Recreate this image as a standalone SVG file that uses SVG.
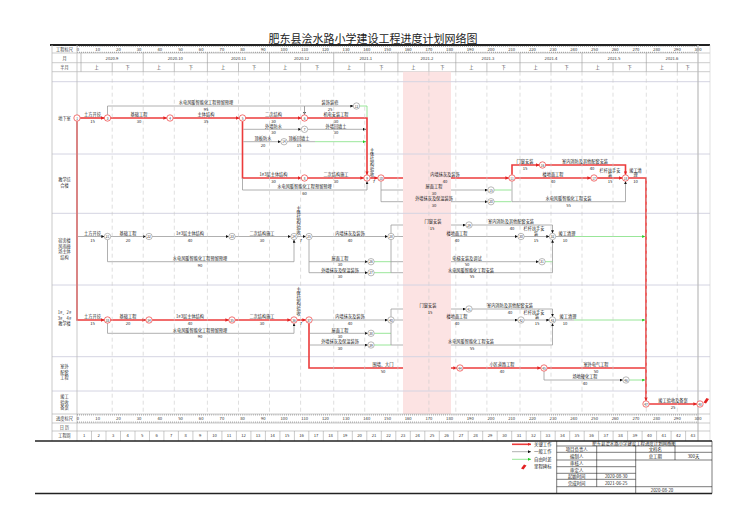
<svg xmlns="http://www.w3.org/2000/svg" width="750" height="530" viewBox="0 0 750 530">
<defs>
<style>
text{font-family:"Noto Sans CJK SC","Noto Sans",sans-serif;fill:#222}
.t{font-size:4.2px;text-anchor:middle}
.h{font-size:4.2px;text-anchor:middle;fill:#333}
.s{font-size:4.4px;text-anchor:middle}
.nn{font-size:3.1px;text-anchor:middle;dominant-baseline:central;fill:#333}
.cr{stroke:#ec3b3b;stroke-width:1.6;fill:none}
.cg{stroke:#9c9c9c;stroke-width:0.8;fill:none}
.cf{stroke:#7fe07f;stroke-width:0.8;fill:none}
.nr circle{fill:#fff;stroke:#ec3b3b;stroke-width:0.7}
.ng circle{fill:#fff;stroke:#8a8a8a;stroke-width:0.6}
.grid{stroke:#c9c9c9;stroke-width:0.6;stroke-dasharray:4 3}
.row{stroke:#d4d4e2;stroke-width:1}
.hl{stroke:#aaa;stroke-width:0.6}
.tb{stroke:#222;stroke-width:0.6;fill:none}
.rul{stroke:#666;stroke-width:1.2;stroke-dasharray:0.5 1.57}
</style>
<marker id="ar" viewBox="0 0 4 4" refX="4" refY="2" markerWidth="3.4" markerHeight="3.4" markerUnits="userSpaceOnUse" orient="auto"><path d="M0,0L4,2L0,4z" fill="#e32222"/></marker>
<marker id="ag" viewBox="0 0 4 4" refX="4" refY="2" markerWidth="3" markerHeight="3" markerUnits="userSpaceOnUse" orient="auto"><path d="M0,0L4,2L0,4z" fill="#111"/></marker>
<marker id="af" viewBox="0 0 4 4" refX="4" refY="2" markerWidth="3" markerHeight="3" markerUnits="userSpaceOnUse" orient="auto"><path d="M0,0L4,2L0,4z" fill="#2c2"/></marker>
</defs>
<rect width="750" height="530" fill="#fff"/>

<text x="373" y="42.5" font-size="11" text-anchor="middle" fill="#222">肥东县浍水路小学建设工程进度计划网络图</text>
<line x1="50" y1="45" x2="710" y2="45" stroke="#222" stroke-width="1.8"/>

<g id="header">
<line class="hl" x1="52" y1="53" x2="710" y2="53"/>
<line class="hl" x1="52" y1="62.7" x2="710" y2="62.7"/>
<line class="hl" x1="52" y1="71.7" x2="710" y2="71.7"/>
<line class="rul" x1="77" y1="46.3" x2="698" y2="46.3"/>
<line class="rul" x1="77" y1="52.3" x2="698" y2="52.3"/>
<text class="h" x="64.5" y="51">工程标尺</text>
<text class="h" x="64.5" y="60">月</text>
<text class="h" x="64.5" y="69">半月</text>
<text x="78" y="51" class="h">0</text><text x="97.7" y="51" class="h">10</text><text x="118.4" y="51" class="h">20</text><text x="139.1" y="51" class="h">30</text><text x="159.8" y="51" class="h">40</text><text x="180.5" y="51" class="h">50</text><text x="201.2" y="51" class="h">60</text><text x="221.9" y="51" class="h">70</text><text x="242.6" y="51" class="h">80</text><text x="263.3" y="51" class="h">90</text><text x="284" y="51" class="h">100</text><text x="304.7" y="51" class="h">110</text><text x="325.4" y="51" class="h">120</text><text x="346.1" y="51" class="h">130</text><text x="366.8" y="51" class="h">140</text><text x="387.5" y="51" class="h">150</text><text x="408.2" y="51" class="h">160</text><text x="428.9" y="51" class="h">170</text><text x="449.6" y="51" class="h">180</text><text x="470.3" y="51" class="h">190</text><text x="491" y="51" class="h">200</text><text x="511.7" y="51" class="h">210</text><text x="532.4" y="51" class="h">220</text><text x="553.1" y="51" class="h">230</text><text x="573.8" y="51" class="h">240</text><text x="594.5" y="51" class="h">250</text><text x="615.2" y="51" class="h">260</text><text x="635.9" y="51" class="h">270</text><text x="656.6" y="51" class="h">280</text><text x="677.3" y="51" class="h">290</text><text x="698" y="51" class="h">300</text>
<text class="h" x="112" y="60">2020.9</text><text class="h" x="175.3" y="60">2020.10</text><text class="h" x="238.5" y="60">2020.11</text><text class="h" x="301.6" y="60">2020.12</text><text class="h" x="365.8" y="60">2021.1</text><text class="h" x="426.9" y="60">2021.2</text><text class="h" x="488" y="60">2021.3</text><text class="h" x="551" y="60">2021.4</text><text class="h" x="614" y="60">2021.5</text><text class="h" x="672" y="60">2021.6</text>
<text class="h" x="96.6" y="69">上</text><text class="h" x="127.7" y="69">下</text><text class="h" x="158.8" y="69">上</text><text class="h" x="190.9" y="69">下</text><text class="h" x="223" y="69">上</text><text class="h" x="254" y="69">下</text><text class="h" x="285" y="69">上</text><text class="h" x="317.2" y="69">下</text><text class="h" x="349.2" y="69">上</text><text class="h" x="381.3" y="69">下</text><text class="h" x="413.4" y="69">上</text><text class="h" x="442.4" y="69">下</text><text class="h" x="471.4" y="69">上</text><text class="h" x="503.5" y="69">下</text><text class="h" x="535.5" y="69">上</text><text class="h" x="566.5" y="69">下</text><text class="h" x="597.5" y="69">上</text><text class="h" x="629.7" y="69">下</text><text class="h" x="661.8" y="69">上</text><text class="h" x="687.7" y="69">下</text>
<g stroke="#999" stroke-width="0.6">
<line x1="81" y1="53" x2="81" y2="71.7"/><line x1="143.2" y1="53" x2="143.2" y2="71.7"/><line x1="207.4" y1="53" x2="207.4" y2="71.7"/><line x1="269.5" y1="53" x2="269.5" y2="71.7"/><line x1="333.7" y1="53" x2="333.7" y2="71.7"/><line x1="397.9" y1="53" x2="397.9" y2="71.7"/><line x1="455.8" y1="53" x2="455.8" y2="71.7"/><line x1="520" y1="53" x2="520" y2="71.7"/><line x1="582" y1="53" x2="582" y2="71.7"/><line x1="646.3" y1="53" x2="646.3" y2="71.7"/>
<line x1="112.2" y1="62.7" x2="112.2" y2="71.7"/><line x1="174.3" y1="62.7" x2="174.3" y2="71.7"/><line x1="238.5" y1="62.7" x2="238.5" y2="71.7"/><line x1="300.6" y1="62.7" x2="300.6" y2="71.7"/><line x1="364.7" y1="62.7" x2="364.7" y2="71.7"/><line x1="428.9" y1="62.7" x2="428.9" y2="71.7"/><line x1="486.9" y1="62.7" x2="486.9" y2="71.7"/><line x1="551" y1="62.7" x2="551" y2="71.7"/><line x1="613" y1="62.7" x2="613" y2="71.7"/><line x1="677.3" y1="62.7" x2="677.3" y2="71.7"/>
</g>
</g>

<g id="rows">
<line class="row" x1="52" y1="81.7" x2="710" y2="81.7"/>
<line class="row" x1="52" y1="154" x2="710" y2="154"/>
<line class="row" x1="52" y1="213.3" x2="710" y2="213.3"/>
<line class="row" x1="52" y1="285" x2="710" y2="285"/>
<line class="row" x1="52" y1="356.7" x2="710" y2="356.7"/>
<line class="row" x1="52" y1="391" x2="710" y2="391"/>
</g>

<g id="connectors">
<path class="cr" d="M80.2,118H104.3" marker-end="url(#ar)"/>
<path class="cr" d="M110.7,118H166.8" marker-end="url(#ar)"/>
<path class="cr" d="M173.2,118H239.3" marker-end="url(#ar)"/>
<path class="cr" d="M245.7,118H301.3" marker-end="url(#ar)"/>
<path class="cr" d="M307.7,118H367V174.8" marker-end="url(#ar)"/>
<path class="cg" d="M107.5,114.8V106H304.5V114.8" marker-end="url(#ag)"/>
<path class="cg" d="M304.5,114.8V106H353.3" marker-end="url(#ag)"/>
<path class="cf" d="M359.7,106H367V117"/>
<path class="cr" d="M242.5,121.2V178H301.3" marker-end="url(#ar)"/>
<path class="cg" d="M243.3,129.3H301.3" marker-end="url(#ag)"/>
<path class="cg" d="M243.3,141.7H280.8" marker-end="url(#ag)"/>
<path class="cg" d="M307.7,129.3H366" marker-end="url(#ag)"/>
<path class="cg" d="M287.2,141.7H315"/>
<path class="cf" d="M315,141.7H366" marker-end="url(#af)"/>
<path class="cr" d="M307.7,178H363.8" marker-end="url(#ar)"/>
<path class="cg" d="M242.5,178V190H367V181.2" marker-end="url(#ag)"/>
<path class="cr" d="M370.2,178H377.8" marker-end="url(#ar)"/>
<path class="cr" d="M384.2,178H508.8" marker-end="url(#ar)"/>
<path class="cg" d="M381,181.2V201.7H487.8" marker-end="url(#ag)"/>
<path class="cg" d="M381,190H487.8" marker-end="url(#ag)"/>
<path class="cf" d="M494.2,190H511.5"/>
<path class="cf" d="M494.2,201.7H511.5"/>
<path class="cg" d="M512,181.2V201.7H625.5V181.2" marker-end="url(#ag)"/>
<path class="cr" d="M512,174.8V165H539.3" marker-end="url(#ar)"/>
<path class="cr" d="M545.7,165H625.5V174.8" marker-end="url(#ar)"/>
<path class="cr" d="M515.2,178H590.8" marker-end="url(#ar)"/>
<path class="cr" d="M597.2,178H622.3" marker-end="url(#ar)"/>
<path class="cr" d="M628.7,178H646V400.8" marker-end="url(#ar)"/>
<path class="cg" d="M78,236.5H104.3" marker-end="url(#ag)"/>
<path class="cg" d="M110.7,236.5H145.8" marker-end="url(#ag)"/>
<path class="cg" d="M152.2,236.5H228.8" marker-end="url(#ag)"/>
<path class="cg" d="M235.2,236.5H290.8" marker-end="url(#ag)"/>
<path class="cg" d="M297.2,236.5H305.8" marker-end="url(#ag)"/>
<path class="cg" d="M107.5,239.7V261.7H294V239.7" marker-end="url(#ag)"/>
<path class="cg" d="M312.2,236.5H387.8" marker-end="url(#ag)"/>
<path class="cg" d="M309,239.7V272.7H367.8" marker-end="url(#ag)"/>
<path class="cg" d="M309,261.7H367.8" marker-end="url(#ag)"/>
<path class="cf" d="M374.2,261.7H391"/>
<path class="cf" d="M374.2,272.7H391"/>
<path class="cg" d="M391,233.3V225H465.8" marker-end="url(#ag)"/>
<path class="cg" d="M391,239.7V272.7H552.5V239.7" marker-end="url(#ag)"/>
<path class="cg" d="M391,261.7H538.8" marker-end="url(#ag)"/>
<path class="cf" d="M545.2,261.7H552.5"/>
<path class="cg" d="M394.2,236.5H517.8" marker-end="url(#ag)"/>
<path class="cg" d="M472.2,225H552.5V233.3" marker-end="url(#ag)"/>
<path class="cg" d="M524.2,236.5H549.3" marker-end="url(#ag)"/>
<path class="cg" d="M555.7,236.5H574"/>
<path class="cf" d="M574,236.5H645.2" marker-end="url(#af)"/>
<path class="cr" d="M77,121.2V320H104.3" marker-end="url(#ar)"/>
<path class="cr" d="M110.7,320H145.8" marker-end="url(#ar)"/>
<path class="cr" d="M152.2,320H228.8" marker-end="url(#ar)"/>
<path class="cr" d="M235.2,320H290.8" marker-end="url(#ar)"/>
<path class="cr" d="M297.2,320H305.8" marker-end="url(#ar)"/>
<path class="cg" d="M107.5,323.2V333.3H294V323.2" marker-end="url(#ag)"/>
<path class="cg" d="M312.2,320H387.8" marker-end="url(#ag)"/>
<path class="cg" d="M309.8,333.3H367.8" marker-end="url(#ag)"/>
<path class="cg" d="M309.8,345H367.8" marker-end="url(#ag)"/>
<path class="cf" d="M374.2,333.3H391"/>
<path class="cf" d="M374.2,345H391"/>
<path class="cg" d="M391,316.8V309H465.8" marker-end="url(#ag)"/>
<path class="cg" d="M391,323.2V345H552.5V323.2" marker-end="url(#ag)"/>
<path class="cg" d="M394.2,320H517.8" marker-end="url(#ag)"/>
<path class="cg" d="M472.2,309H552.5V316.8" marker-end="url(#ag)"/>
<path class="cg" d="M524.2,320H549.3" marker-end="url(#ag)"/>
<path class="cg" d="M555.7,320H574"/>
<path class="cf" d="M574,320H645.2" marker-end="url(#af)"/>
<path class="cr" d="M309,323.2V368H456.8" marker-end="url(#ar)"/>
<path class="cr" d="M463.2,368H540.8" marker-end="url(#ar)"/>
<path class="cr" d="M547.2,368H645.2"/>
<path class="cg" d="M544,371.2V380H622.8" marker-end="url(#ag)"/>
<path class="cf" d="M629.2,380H645.2" marker-end="url(#af)"/>
<path class="cr" d="M649.2,404H696.8" marker-end="url(#ar)"/>
</g>

<rect x="403" y="71.7" width="48" height="342.3" fill="#fce3e3"/>

<g id="grid">
<line class="grid" x1="112.2" y1="71.7" x2="112.2" y2="414"/><line class="grid" x1="143.2" y1="71.7" x2="143.2" y2="414"/><line class="grid" x1="174.3" y1="71.7" x2="174.3" y2="414"/><line class="grid" x1="207.4" y1="71.7" x2="207.4" y2="414"/><line class="grid" x1="238.5" y1="71.7" x2="238.5" y2="414"/><line class="grid" x1="269.5" y1="71.7" x2="269.5" y2="414"/><line class="grid" x1="300.6" y1="71.7" x2="300.6" y2="414"/><line class="grid" x1="333.7" y1="71.7" x2="333.7" y2="414"/><line class="grid" x1="364.7" y1="71.7" x2="364.7" y2="414"/><line class="grid" x1="397.9" y1="71.7" x2="397.9" y2="414"/><line class="grid" x1="428.9" y1="71.7" x2="428.9" y2="414"/><line class="grid" x1="455.8" y1="71.7" x2="455.8" y2="414"/><line class="grid" x1="486.9" y1="71.7" x2="486.9" y2="414"/><line class="grid" x1="520" y1="71.7" x2="520" y2="414"/><line class="grid" x1="551" y1="71.7" x2="551" y2="414"/><line class="grid" x1="582" y1="71.7" x2="582" y2="414"/><line class="grid" x1="613" y1="71.7" x2="613" y2="414"/><line class="grid" x1="646.3" y1="71.7" x2="646.3" y2="414"/><line class="grid" x1="677.3" y1="71.7" x2="677.3" y2="414"/>
<line class="row" x1="403" y1="81.7" x2="451" y2="81.7"/><line class="row" x1="403" y1="154" x2="451" y2="154"/><line class="row" x1="403" y1="213.3" x2="451" y2="213.3"/><line class="row" x1="403" y1="285" x2="451" y2="285"/><line class="row" x1="403" y1="356.7" x2="451" y2="356.7"/><line class="row" x1="403" y1="391" x2="451" y2="391"/>
</g>

<g id="frame">
<line x1="52" y1="45" x2="52" y2="441" stroke="#bbb" stroke-width="0.8"/>
<line x1="77" y1="45" x2="77" y2="441" stroke="#bbb" stroke-width="0.8"/>
<line x1="698" y1="45" x2="698" y2="441" stroke="#bbb" stroke-width="1.2"/>
<line x1="710" y1="45" x2="710" y2="441" stroke="#ccc" stroke-width="0.6"/>
</g>

<g id="rowlabels">
<text class="h" x="64.5" y="119.5">地下室</text>
<text class="h" x="64.5" y="181">教学综</text><text class="h" x="64.5" y="186.5">合楼</text>
<text class="h" x="64.5" y="242">宿舍楼</text><text class="h" x="64.5" y="247.5">风雨操</text><text class="h" x="64.5" y="253">场主体</text><text class="h" x="64.5" y="258.5">结构</text>
<text class="h" x="64.5" y="314">1#、2#</text><text class="h" x="64.5" y="319.5">3#、4#</text><text class="h" x="64.5" y="325">教学楼</text>
<text class="h" x="64.5" y="368">室外</text><text class="h" x="64.5" y="373.5">配套</text><text class="h" x="64.5" y="379">工程</text>
<text class="h" x="64.5" y="398">竣工</text><text class="h" x="64.5" y="403.5">验收</text><text class="h" x="64.5" y="409">备案</text>
</g>

<g id="labels">
<text class="t" x="92.5" y="116.4">土方开挖</text><text class="t" x="92.5" y="123">15</text>
<text class="t" x="139" y="116.4">基础工程</text><text class="t" x="139" y="123">30</text>
<text class="t" x="206" y="116.4">主体结构</text><text class="t" x="206" y="123">35</text>
<text class="t" x="273.5" y="116.4">二次结构</text><text class="t" x="273.5" y="123">30</text>
<text class="t" x="336" y="116.4">机电安装工程</text><text class="t" x="336" y="123">30</text>
<text class="t" x="206" y="104.4">水电风暖智能化工程预留预埋</text><text class="t" x="206" y="111">95</text>
<text class="t" x="330" y="104.4">装饰装修</text><text class="t" x="330" y="111">25</text>
<text class="t" x="273.5" y="127.7">外墙防水</text><text class="t" x="273.5" y="134.3">30</text>
<text class="t" x="336" y="127.7">外墙回填土</text><text class="t" x="336" y="134.3">30</text>
<text class="t" x="263" y="140.1">顶板防水</text><text class="t" x="263" y="146.7">20</text>
<text class="t" x="299" y="140.1">顶板回填土</text><text class="t" x="299" y="146.7">15</text>

<text class="t" x="273.5" y="176.4">1#3层主体结构</text><text class="t" x="273.5" y="183">30</text>
<text class="t" x="336" y="176.4">二次结构施工</text><text class="t" x="336" y="183">30</text>
<text class="t" x="304.5" y="188.4">水电风暖智能化工程预留预埋</text><text class="t" x="304.5" y="195">60</text>
<g class="t"><text class="t" x="372" y="151.5">主</text><text class="t" x="372" y="156.3">体</text><text class="t" x="372" y="161.1">结</text><text class="t" x="372" y="165.9">构</text><text class="t" x="372" y="170.7">验</text><text class="t" x="372" y="175.5">收</text></g>
<text class="t" x="374" y="183">7</text>
<text class="t" x="445" y="176.4">内墙抹灰及装饰</text><text class="t" x="445" y="183">40</text>
<text class="t" x="434" y="188.4">屋面工程</text><text class="t" x="434" y="195">30</text>
<text class="t" x="434" y="200.1">外墙抹灰及保温装饰</text><text class="t" x="434" y="206.7">30</text>
<text class="t" x="525" y="163.4">门窗安装</text><text class="t" x="525" y="170">15</text>
<text class="t" x="585" y="163.4">室内消防及其他配套安装</text><text class="t" x="592" y="170">40</text>
<text class="t" x="553" y="176.4">楼地面工程</text><text class="t" x="553" y="183">40</text>
<text class="t" x="610" y="171.6">栏杆扶手安</text><text class="t" x="610" y="176.3">装</text><text class="t" x="610" y="183">15</text>
<text class="t" x="635.5" y="171.6">竣工清</text><text class="t" x="635.5" y="176.3">理</text><text class="t" x="635.5" y="183">10</text>
<text class="t" x="568.5" y="200.1">水电风暖智能化工程安装</text><text class="t" x="568.5" y="206.7">55</text>

<text class="t" x="92.5" y="234.9">土方开挖</text><text class="t" x="92.5" y="241.5">15</text>
<text class="t" x="128" y="234.9">基础工程</text><text class="t" x="128" y="241.5">20</text>
<text class="t" x="190" y="234.9">1#3层主体结构</text><text class="t" x="190" y="241.5">40</text>
<text class="t" x="262" y="234.9">二次结构施工</text><text class="t" x="262" y="241.5">30</text>
<g class="t"><text class="t" x="298.5" y="209.5">主</text><text class="t" x="298.5" y="214.3">体</text><text class="t" x="298.5" y="219.1">结</text><text class="t" x="298.5" y="223.9">构</text><text class="t" x="298.5" y="228.7">验</text><text class="t" x="298.5" y="233.5">收</text></g>
<text class="t" x="301" y="241.5">7</text>
<text class="t" x="200" y="260.1">水电风暖智能化工程预留预埋</text><text class="t" x="200" y="266.7">90</text>
<text class="t" x="350" y="234.9">内墙抹灰及装饰</text><text class="t" x="350" y="241.5">40</text>
<text class="t" x="340" y="260.1">屋面工程</text><text class="t" x="340" y="265.9">30</text>
<text class="t" x="340" y="271.6">外墙抹灰及保温装饰</text><text class="t" x="340" y="277.7">30</text>
<text class="t" x="433" y="223.4">门窗安装</text><text class="t" x="432" y="230">15</text>
<text class="t" x="511" y="223.4">室内消防及其他配套安装</text><text class="t" x="512" y="230">40</text>
<text class="t" x="457" y="234.9">楼地面工程</text><text class="t" x="457" y="241.5">40</text>
<text class="t" x="534" y="230.2">栏杆扶手安</text><text class="t" x="536" y="234.9">装</text><text class="t" x="536" y="241.5">15</text>
<text class="t" x="567" y="234.9">竣工清理</text><text class="t" x="565" y="241.5">10</text>
<text class="t" x="467" y="260.1">电梯安装及调试</text><text class="t" x="467" y="265.9">50</text>
<text class="t" x="471" y="271.6">水电风暖智能化工程安装</text><text class="t" x="472" y="277.7">55</text>

<text class="t" x="92.5" y="318.4">土方开挖</text><text class="t" x="92.5" y="325">15</text>
<text class="t" x="128" y="318.4">基础工程</text><text class="t" x="128" y="325">20</text>
<text class="t" x="190" y="318.4">1#3层主体结构</text><text class="t" x="190" y="325">40</text>
<text class="t" x="262" y="318.4">二次结构施工</text><text class="t" x="262" y="325">30</text>
<g class="t"><text class="t" x="298.5" y="290.5">主</text><text class="t" x="298.5" y="295.3">体</text><text class="t" x="298.5" y="300.1">结</text><text class="t" x="298.5" y="304.9">构</text><text class="t" x="298.5" y="309.7">验</text><text class="t" x="298.5" y="314.5">收</text></g>
<text class="t" x="301" y="325">7</text>
<text class="t" x="200" y="331.7">水电风暖智能化工程预留预埋</text><text class="t" x="200" y="338.3">90</text>
<text class="t" x="350" y="318.4">内墙抹灰及装饰</text><text class="t" x="350" y="325">40</text>
<text class="t" x="340" y="331.7">屋面工程</text><text class="t" x="340" y="338.3">30</text>
<text class="t" x="340" y="343.4">外墙抹灰及保温装饰</text><text class="t" x="340" y="350">30</text>
<text class="t" x="428" y="307.4">门窗安装</text><text class="t" x="430" y="314">15</text>
<text class="t" x="510" y="307.4">室内消防及其他配套安装</text><text class="t" x="510" y="314">40</text>
<text class="t" x="457" y="318.4">楼地面工程</text><text class="t" x="457" y="325">40</text>
<text class="t" x="534" y="313.6">栏杆扶手安</text><text class="t" x="537" y="318.4">装</text><text class="t" x="537" y="325">15</text>
<text class="t" x="568" y="318.4">竣工清理</text><text class="t" x="565" y="325">10</text>
<text class="t" x="471" y="343.4">水电风暖智能化工程安装</text><text class="t" x="472" y="350">55</text>

<text class="t" x="383" y="366.4">围墙、大门</text><text class="t" x="383" y="373">50</text>
<text class="t" x="502" y="366.4">小区道路工程</text><text class="t" x="502" y="373">40</text>
<text class="t" x="596" y="366.4">室外电气工程</text><text class="t" x="596" y="373">50</text>
<text class="t" x="585" y="378.4">场地硬化工程</text><text class="t" x="585" y="385">40</text>
<text class="t" x="673" y="402.4">竣工验收及备案</text><text class="t" x="673" y="409">25</text>
</g>

<g id="n1" class="nr"><circle cx="77" cy="118" r="3.2"/><text class="nn" x="77" y="118">1</text></g>
<g id="n3" class="nr"><circle cx="107.5" cy="118" r="3.2"/><text class="nn" x="107.5" y="118">3</text></g>
<g id="n4" class="nr"><circle cx="170" cy="118" r="3.2"/><text class="nn" x="170" y="118">4</text></g>
<g id="n5" class="nr"><circle cx="242.5" cy="118" r="3.2"/><text class="nn" x="242.5" y="118">5</text></g>
<g id="n6" class="nr"><circle cx="304.5" cy="118" r="3.2"/><text class="nn" x="304.5" y="118">6</text></g>
<g id="n12" class="ng"><circle cx="356.5" cy="106" r="3.2"/><text class="nn" x="356.5" y="106">12</text></g>
<g id="n7" class="ng"><circle cx="304.5" cy="129.3" r="3.2"/><text class="nn" x="304.5" y="129.3">7</text></g>
<g id="n14" class="ng"><circle cx="284" cy="141.7" r="3.2"/><text class="nn" x="284" y="141.7">14</text></g>
<g id="n8" class="nr"><circle cx="304.5" cy="178" r="3.2"/><text class="nn" x="304.5" y="178">8</text></g>
<g id="n9" class="nr"><circle cx="367" cy="178" r="3.2"/><text class="nn" x="367" y="178">9</text></g>
<g id="n10" class="nr"><circle cx="381" cy="178" r="3.2"/><text class="nn" x="381" y="178">10</text></g>
<g id="n15" class="ng"><circle cx="491" cy="190" r="3.2"/><text class="nn" x="491" y="190">15</text></g>
<g id="n20" class="ng"><circle cx="491" cy="201.7" r="3.2"/><text class="nn" x="491" y="201.7">20</text></g>
<g id="n11" class="nr"><circle cx="512" cy="178" r="3.2"/><text class="nn" x="512" y="178">11</text></g>
<g id="n16" class="nr"><circle cx="542.5" cy="165" r="3.2"/><text class="nn" x="542.5" y="165">16</text></g>
<g id="n17" class="nr"><circle cx="594" cy="178" r="3.2"/><text class="nn" x="594" y="178">17</text></g>
<g id="n18" class="nr"><circle cx="625.5" cy="178" r="3.2"/><text class="nn" x="625.5" y="178">18</text></g>
<g id="n21" class="ng"><circle cx="107.5" cy="236.5" r="3.2"/><text class="nn" x="107.5" y="236.5">21</text></g>
<g id="n22" class="ng"><circle cx="149" cy="236.5" r="3.2"/><text class="nn" x="149" y="236.5">22</text></g>
<g id="n23" class="ng"><circle cx="232" cy="236.5" r="3.2"/><text class="nn" x="232" y="236.5">23</text></g>
<g id="n24" class="ng"><circle cx="294" cy="236.5" r="3.2"/><text class="nn" x="294" y="236.5">24</text></g>
<g id="n25" class="ng"><circle cx="309" cy="236.5" r="3.2"/><text class="nn" x="309" y="236.5">25</text></g>
<g id="n26" class="ng"><circle cx="371" cy="261.7" r="3.2"/><text class="nn" x="371" y="261.7">26</text></g>
<g id="n27" class="ng"><circle cx="371" cy="272.7" r="3.2"/><text class="nn" x="371" y="272.7">27</text></g>
<g id="n28" class="ng"><circle cx="391" cy="236.5" r="3.2"/><text class="nn" x="391" y="236.5">28</text></g>
<g id="n29" class="ng"><circle cx="469" cy="225" r="3.2"/><text class="nn" x="469" y="225">29</text></g>
<g id="n30" class="ng"><circle cx="521" cy="236.5" r="3.2"/><text class="nn" x="521" y="236.5">30</text></g>
<g id="n31" class="ng"><circle cx="542" cy="261.7" r="3.2"/><text class="nn" x="542" y="261.7">31</text></g>
<g id="n32" class="ng"><circle cx="552.5" cy="236.5" r="3.2"/><text class="nn" x="552.5" y="236.5">32</text></g>
<g id="n33" class="nr"><circle cx="107.5" cy="320" r="3.2"/><text class="nn" x="107.5" y="320">33</text></g>
<g id="n34" class="nr"><circle cx="149" cy="320" r="3.2"/><text class="nn" x="149" y="320">34</text></g>
<g id="n35" class="nr"><circle cx="232" cy="320" r="3.2"/><text class="nn" x="232" y="320">35</text></g>
<g id="n36" class="nr"><circle cx="294" cy="320" r="3.2"/><text class="nn" x="294" y="320">36</text></g>
<g id="n37" class="nr"><circle cx="309" cy="320" r="3.2"/><text class="nn" x="309" y="320">37</text></g>
<g id="n38" class="ng"><circle cx="371" cy="333.3" r="3.2"/><text class="nn" x="371" y="333.3">38</text></g>
<g id="n39" class="ng"><circle cx="371" cy="345" r="3.2"/><text class="nn" x="371" y="345">39</text></g>
<g id="n40" class="ng"><circle cx="391" cy="320" r="3.2"/><text class="nn" x="391" y="320">40</text></g>
<g id="n41" class="ng"><circle cx="469" cy="309" r="3.2"/><text class="nn" x="469" y="309">41</text></g>
<g id="n42" class="ng"><circle cx="521" cy="320" r="3.2"/><text class="nn" x="521" y="320">42</text></g>
<g id="n43" class="ng"><circle cx="552.5" cy="320" r="3.2"/><text class="nn" x="552.5" y="320">43</text></g>
<g id="n44" class="nr"><circle cx="460" cy="368" r="3.2"/><text class="nn" x="460" y="368">44</text></g>
<g id="n45" class="nr"><circle cx="544" cy="368" r="3.2"/><text class="nn" x="544" y="368">45</text></g>
<g id="n46" class="ng"><circle cx="626" cy="380" r="3.2"/><text class="nn" x="626" y="380">46</text></g>
<g id="n47" class="nr"><circle cx="646" cy="404" r="3.2"/><text class="nn" x="646" y="404">47</text></g>
<g id="n48" class="nr"><circle cx="700" cy="404" r="3.2"/><text class="nn" x="700" y="404">48</text></g>
<polygon points="703.5,402.5 706.5,398 709,399 706,403.5" fill="#e32222"/>

<g id="scale">
<line class="hl" x1="52" y1="414" x2="710" y2="414"/>
<line class="hl" x1="52" y1="423" x2="710" y2="423"/>
<line class="hl" x1="52" y1="431" x2="710" y2="431"/>
<line class="rul" x1="77" y1="414.8" x2="698" y2="414.8"/>
<line class="rul" x1="77" y1="422.2" x2="698" y2="422.2"/>
<text class="h" x="64.5" y="420.3">进度标尺</text>
<text class="h" x="64.5" y="428.6">日 历</text>
<text class="h" x="64.5" y="437.3">工程周</text>
<text x="78" y="420.3" class="h">0</text><text x="97.7" y="420.3" class="h">10</text><text x="118.4" y="420.3" class="h">20</text><text x="139.1" y="420.3" class="h">30</text><text x="159.8" y="420.3" class="h">40</text><text x="180.5" y="420.3" class="h">50</text><text x="201.2" y="420.3" class="h">60</text><text x="221.9" y="420.3" class="h">70</text><text x="242.6" y="420.3" class="h">80</text><text x="263.3" y="420.3" class="h">90</text><text x="284" y="420.3" class="h">100</text><text x="304.7" y="420.3" class="h">110</text><text x="325.4" y="420.3" class="h">120</text><text x="346.1" y="420.3" class="h">130</text><text x="366.8" y="420.3" class="h">140</text><text x="387.5" y="420.3" class="h">150</text><text x="408.2" y="420.3" class="h">160</text><text x="428.9" y="420.3" class="h">170</text><text x="449.6" y="420.3" class="h">180</text><text x="470.3" y="420.3" class="h">190</text><text x="491" y="420.3" class="h">200</text><text x="511.7" y="420.3" class="h">210</text><text x="532.4" y="420.3" class="h">220</text><text x="553.1" y="420.3" class="h">230</text><text x="573.8" y="420.3" class="h">240</text><text x="594.5" y="420.3" class="h">250</text><text x="615.2" y="420.3" class="h">260</text><text x="635.9" y="420.3" class="h">270</text><text x="656.6" y="420.3" class="h">280</text><text x="677.3" y="420.3" class="h">290</text><text x="698" y="420.3" class="h">300</text>
<g stroke="#999" stroke-width="0.5">
<line x1="91.5" y1="431" x2="91.5" y2="441"/><line x1="106" y1="431" x2="106" y2="441"/><line x1="120.5" y1="431" x2="120.5" y2="441"/><line x1="135" y1="431" x2="135" y2="441"/><line x1="149.5" y1="431" x2="149.5" y2="441"/><line x1="163.9" y1="431" x2="163.9" y2="441"/><line x1="178.4" y1="431" x2="178.4" y2="441"/><line x1="192.9" y1="431" x2="192.9" y2="441"/><line x1="207.4" y1="431" x2="207.4" y2="441"/><line x1="221.9" y1="431" x2="221.9" y2="441"/><line x1="236.4" y1="431" x2="236.4" y2="441"/><line x1="250.9" y1="431" x2="250.9" y2="441"/><line x1="265.4" y1="431" x2="265.4" y2="441"/><line x1="279.9" y1="431" x2="279.9" y2="441"/><line x1="294.4" y1="431" x2="294.4" y2="441"/><line x1="308.8" y1="431" x2="308.8" y2="441"/><line x1="323.3" y1="431" x2="323.3" y2="441"/><line x1="337.8" y1="431" x2="337.8" y2="441"/><line x1="352.3" y1="431" x2="352.3" y2="441"/><line x1="366.8" y1="431" x2="366.8" y2="441"/><line x1="381.3" y1="431" x2="381.3" y2="441"/><line x1="395.8" y1="431" x2="395.8" y2="441"/><line x1="410.3" y1="431" x2="410.3" y2="441"/><line x1="424.8" y1="431" x2="424.8" y2="441"/><line x1="439.3" y1="431" x2="439.3" y2="441"/><line x1="453.7" y1="431" x2="453.7" y2="441"/><line x1="468.2" y1="431" x2="468.2" y2="441"/><line x1="482.7" y1="431" x2="482.7" y2="441"/><line x1="497.2" y1="431" x2="497.2" y2="441"/><line x1="511.7" y1="431" x2="511.7" y2="441"/><line x1="526.2" y1="431" x2="526.2" y2="441"/><line x1="540.7" y1="431" x2="540.7" y2="441"/><line x1="555.2" y1="431" x2="555.2" y2="441"/><line x1="569.7" y1="431" x2="569.7" y2="441"/><line x1="584.2" y1="431" x2="584.2" y2="441"/><line x1="598.6" y1="431" x2="598.6" y2="441"/><line x1="613.1" y1="431" x2="613.1" y2="441"/><line x1="627.6" y1="431" x2="627.6" y2="441"/><line x1="642.1" y1="431" x2="642.1" y2="441"/><line x1="656.6" y1="431" x2="656.6" y2="441"/><line x1="671.1" y1="431" x2="671.1" y2="441"/><line x1="685.6" y1="431" x2="685.6" y2="441"/>
</g>
<text class="h" x="84.2" y="437.3">1</text><text class="h" x="98.7" y="437.3">2</text><text class="h" x="113.2" y="437.3">3</text><text class="h" x="127.7" y="437.3">4</text><text class="h" x="142.2" y="437.3">5</text><text class="h" x="156.7" y="437.3">6</text><text class="h" x="171.2" y="437.3">7</text><text class="h" x="185.6" y="437.3">8</text><text class="h" x="200.1" y="437.3">9</text><text class="h" x="214.6" y="437.3">10</text><text class="h" x="229.1" y="437.3">11</text><text class="h" x="243.6" y="437.3">12</text><text class="h" x="258.1" y="437.3">13</text><text class="h" x="272.6" y="437.3">14</text><text class="h" x="287.1" y="437.3">15</text><text class="h" x="301.6" y="437.3">16</text><text class="h" x="316.1" y="437.3">17</text><text class="h" x="330.6" y="437.3">18</text><text class="h" x="345.1" y="437.3">19</text><text class="h" x="359.6" y="437.3">20</text><text class="h" x="374" y="437.3">21</text><text class="h" x="388.5" y="437.3">22</text><text class="h" x="403" y="437.3">23</text><text class="h" x="417.5" y="437.3">24</text><text class="h" x="432" y="437.3">25</text><text class="h" x="446.5" y="437.3">26</text><text class="h" x="461" y="437.3">27</text><text class="h" x="475.5" y="437.3">28</text><text class="h" x="490" y="437.3">29</text><text class="h" x="504.5" y="437.3">30</text><text class="h" x="519" y="437.3">31</text><text class="h" x="533.4" y="437.3">32</text><text class="h" x="547.9" y="437.3">33</text><text class="h" x="562.4" y="437.3">34</text><text class="h" x="576.9" y="437.3">35</text><text class="h" x="591.4" y="437.3">36</text><text class="h" x="605.9" y="437.3">37</text><text class="h" x="620.4" y="437.3">38</text><text class="h" x="634.9" y="437.3">39</text><text class="h" x="649.4" y="437.3">40</text><text class="h" x="663.9" y="437.3">41</text><text class="h" x="678.4" y="437.3">42</text><text class="h" x="692.9" y="437.3">43</text>
</g>
<line x1="35" y1="441" x2="712" y2="441" stroke="#222" stroke-width="1.6"/>

<g id="legend">
<line x1="512" y1="444.3" x2="531" y2="444.3" class="cr" marker-end="url(#ar)"/>
<text x="534" y="446" font-size="4.4">关键工作</text>
<line x1="512" y1="451.7" x2="531" y2="451.7" class="cg" marker-end="url(#ag)"/>
<text x="534" y="453.4" font-size="4.4">一般工作</text>
<line x1="512" y1="459.3" x2="531" y2="459.3" class="cf" marker-end="url(#af)"/>
<text x="534" y="461" font-size="4.4">自由时差</text>
<polygon points="521,468.5 524,464.5 526.5,465.5 523.5,469.5" fill="#e32222"/>
<text x="534" y="468.4" font-size="4.4">里程碑标</text>
</g>

<g id="titleblock" class="tb">
<line x1="556.7" y1="441" x2="556.7" y2="493.5"/>
<line x1="712" y1="441" x2="712" y2="493.5"/>
<line x1="556.7" y1="446" x2="712" y2="446"/>
<line x1="556.7" y1="452.3" x2="712" y2="452.3"/>
<line x1="556.7" y1="460" x2="712" y2="460"/>
<line x1="556.7" y1="466.7" x2="635.7" y2="466.7"/>
<line x1="556.7" y1="473.3" x2="635.7" y2="473.3"/>
<line x1="556.7" y1="479.3" x2="635.7" y2="479.3"/>
<line x1="556.7" y1="486.7" x2="712" y2="486.7"/>
<line x1="596.7" y1="446" x2="596.7" y2="486.7"/>
<line x1="635.7" y1="446" x2="635.7" y2="493.5"/>
<line x1="675" y1="446" x2="675" y2="460"/>
<line x1="35" y1="493.5" x2="712" y2="493.5" stroke-width="1.6"/>
</g>
<g id="tbtext">
<text class="s" x="634" y="445">肥东县浍水路小学建设工程进度计划网络图</text>
<text class="s" x="576.7" y="450.6">项目负责人</text><text class="s" x="655.3" y="450.6">文档名</text>
<text class="s" x="576.7" y="457.6">编制人</text><text class="s" x="655.3" y="457.6">总工期</text><text class="s" x="693.5" y="457.6">300天</text>
<text class="s" x="576.7" y="464.8">审核人</text>
<text class="s" x="576.7" y="471.5">审定人</text>
<text class="s" x="576.7" y="477.8">起始时间</text><text class="s" x="616.2" y="477.8">2020-08-30</text>
<text class="s" x="576.7" y="484.5">完成时间</text><text class="s" x="616.2" y="484.5">2021-06-25</text>
<text class="s" x="662" y="491.8">2020-08-20</text>
</g>
</svg>
